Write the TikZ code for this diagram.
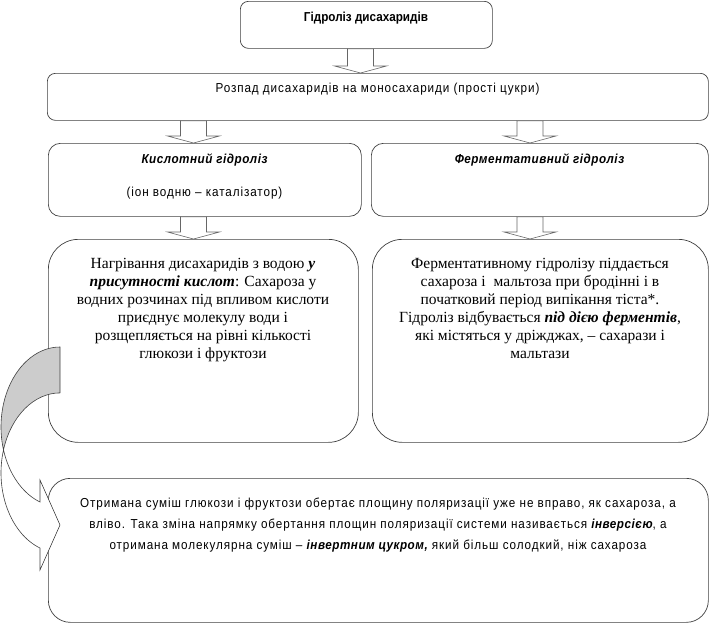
\documentclass[tikz,border=0pt]{standalone}
\usepackage{fontspec}
\setmainfont{Liberation Serif}
\newfontfamily\nsans[FakeStretch=0.9, LetterSpace=7]{Liberation Sans}
\newfontfamily\nsansb[FakeStretch=0.9]{Liberation Sans}
\newfontfamily\nsansbi[FakeStretch=0.9, LetterSpace=4]{Liberation Sans}
\usetikzlibrary{calc}
\tikzset{
  box/.style={draw=black!75, line width=0.7pt, fill=white, inner sep=0pt, anchor=north west},
  barrow/.style={draw=black!60, line width=0.6pt, fill=white},
  sanstxt/.style={font=\nsans\fontsize{13}{15}\selectfont, inner sep=0pt},
  btxt/.style={font=\nsansb\bfseries\fontsize{13}{15}\selectfont, inner sep=0pt},
  bitxt/.style={font=\nsansbi\bfseries\itshape\fontsize{13}{15}\selectfont, inner sep=0pt},
  sertxt/.style={font=\fontsize{15.5}{18}\selectfont, align=center, inner sep=0pt, anchor=north},
  longtxt/.style={font=\nsans\fontsize{13}{21}\selectfont, align=center, inner sep=0pt, anchor=north},
  backband/.style={draw=black!75, line width=0.6pt, fill=black!20},
  frontband/.style={draw=black!75, line width=0.6pt, fill=white},
}
\newcommand\blockarr[3]{%
  \draw[barrow] let \p1=(#2.south), \p2=(#3.north) in
    (#1pt-13pt,\y1) -- (#1pt+13pt,\y1) -- (#1pt+13pt,\y2+7pt) -- (#1pt+26pt,\y2+7pt)
    -- (#1pt,\y2) -- (#1pt-26pt,\y2+7pt) -- (#1pt-13pt,\y2+7pt) -- cycle;}
\newcommand\bi[1]{\textbf{\textit{#1}}}
\newcommand\sbi[1]{{\nsansbi\bfseries\itshape #1}}
\begin{document}
\begin{tikzpicture}[x=1pt,y=1pt]
\useasboundingbox (0,0) rectangle (709,-624);
% boxes
\node[box, rounded corners=8pt, minimum width=252pt, minimum height=47pt] (b1) at (240,-1) {};
\node[box, rounded corners=8pt, minimum width=661pt, minimum height=47pt] (b2) at (47,-73) {};
\node[box, rounded corners=12pt, minimum width=313pt, minimum height=73pt] (b3) at (48,-143) {};
\node[box, rounded corners=12pt, minimum width=337pt, minimum height=73pt] (b4) at (371,-143) {};
\node[box, rounded corners=30pt, minimum width=310pt, minimum height=203pt] (b5) at (48,-239) {};
\node[box, rounded corners=30pt, minimum width=336pt, minimum height=203pt] (b6) at (372,-239) {};
\node[box, rounded corners=22pt, minimum width=660pt, minimum height=144pt] (b7) at (48,-478) {};
% block arrows
\blockarr{360.5}{b1}{b2}
\blockarr{193.5}{b2}{b3}
\blockarr{530}{b2}{b4}
\blockarr{193.5}{b3}{b5}
\blockarr{530}{b4}{b6}
% texts
\node[btxt] (t1) at (366,-18) {Гідроліз дисахаридів};
\node[sanstxt] (t2) at (377.5,-89) {Розпад дисахаридів на моносахариди (прості цукри)};
\node[bitxt] (t3) at (204.5,-160) {Кислотний гідроліз};
\node[sanstxt] (t3b) at (204.5,-193) {(іон водню – каталізатор)};
\node[bitxt] (t4) at (539.5,-160) {Ферментативний гідроліз};
\node[sertxt] (t5) at (203,-258.5) {Нагрівання дисахаридів з водою \bi{у}\\
  \bi{присутності кислот}: Сахароза у\\
  водних розчинах під впливом кислоти\\
  приєднує молекулу води і\\
  розщепляється на рівні кількості\\
  глюкози і фруктози};
\node[sertxt] (t6) at (540,-258.5) {Ферментативному гідролізу піддається\\
  сахароза і \ мальтоза при бродінні і в\\
  початковий період випікання тіста*.\\
  Гідроліз відбувається \bi{під дією ферментів},\\
  які містяться у дріжджах, – сахарази і\\
  мальтази};
\node[longtxt] (t7) at (378,-497.5) {Отримана суміш глюкози і фруктози обертає площину поляризації уже не вправо, як сахароза, а\\
  вліво. Така зміна напрямку обертання площин поляризації системи називається \sbi{інверсією}, а\\
  отримана молекулярна суміш – \sbi{інвертним цукром,} який більш солодкий, ніж сахароза};
% curved arrow from b5 down to b7
\path[backband] (60,-347) arc[start angle=90, end angle=196.7, x radius=59, y radius=79.9]
  arc[start angle=163.3, end angle=90, x radius=59, y radius=79.9] -- cycle;
\path[frontband] (3.5,-449.9) arc[start angle=163.3, end angle=250.2, x radius=59, y radius=79.9]
  -- (40,-570) -- (60,-525) -- (40,-480) -- (40,-502)
  arc[start angle=250.2, end angle=196.7, x radius=59, y radius=79.9] -- cycle;
\end{tikzpicture}
\end{document}
